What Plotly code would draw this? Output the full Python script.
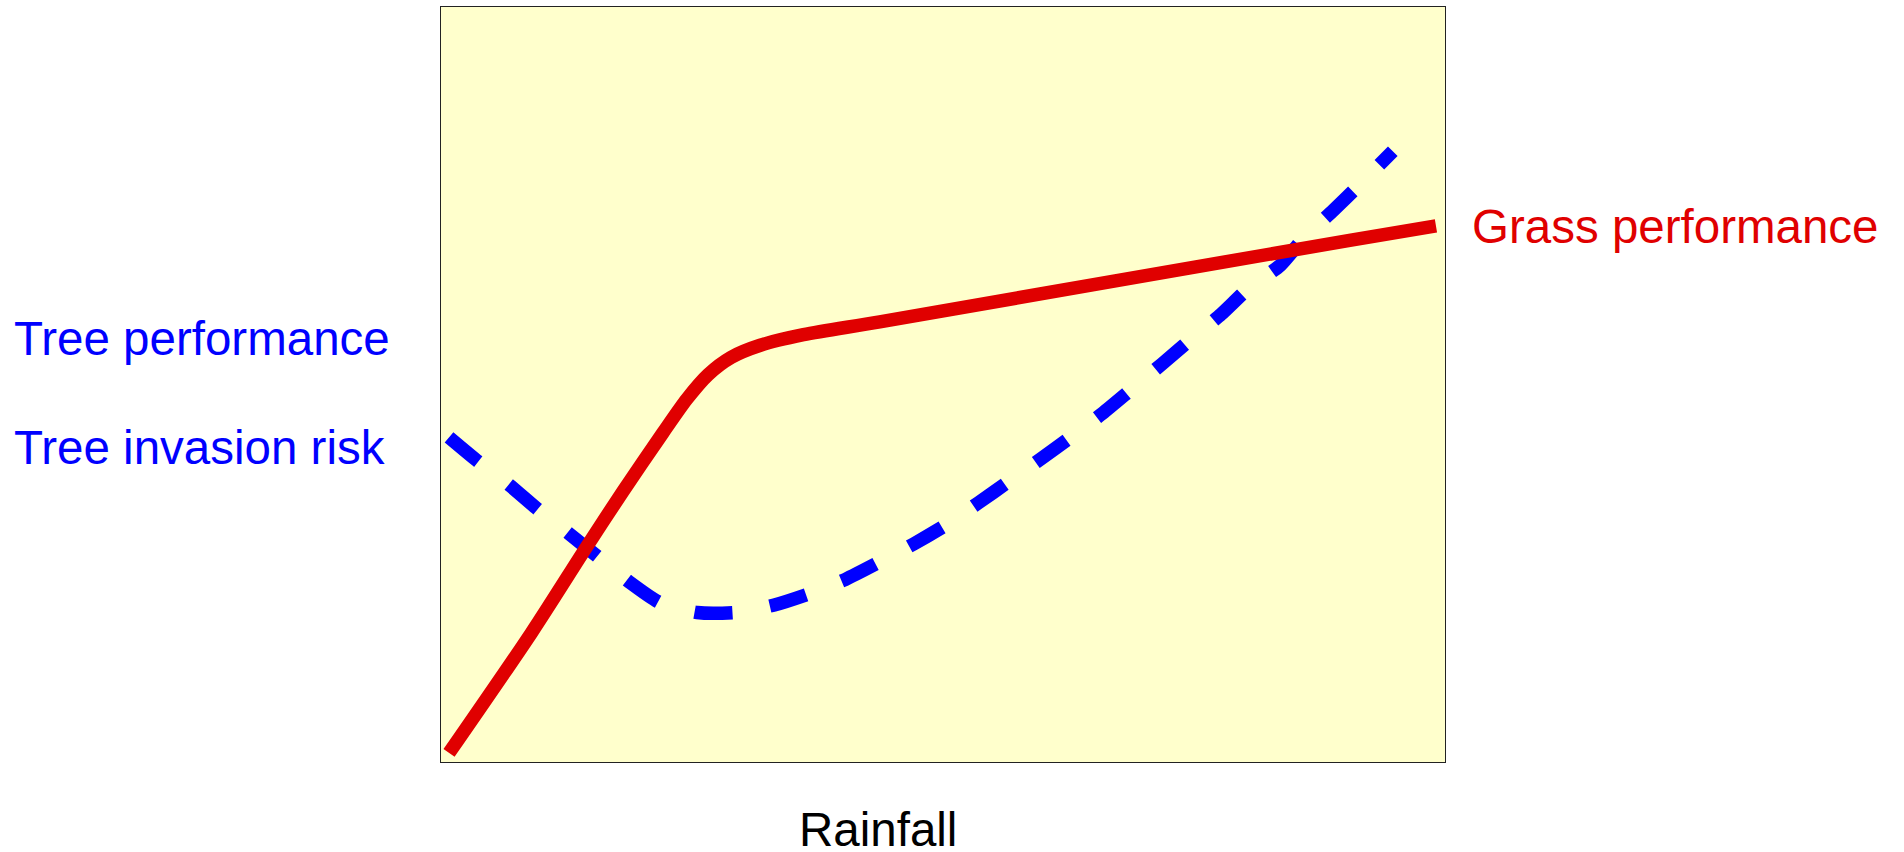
import plotly.graph_objects as go

# Rainfall axis (0-100 arbitrary units), performance axis (0-100 arbitrary units)
grass_x = [0.8, 9.0, 14.5, 18.1, 22.1, 24.5, 26.6, 28.9, 31.8, 36.1, 43.7, 90.5, 99.1]
grass_y = [1.2, 17.1, 28.5, 35.8, 43.6, 48.1, 51.3, 53.6, 55.2, 56.6, 58.3, 69.1, 71.0]

tree_x = [0.8, 3.7, 6.8, 9.7, 12.7, 15.6, 18.7, 21.8, 25.5, 29.3, 33.2, 36.7, 40.3,
          43.7, 47.1, 50.3, 53.5, 56.6, 59.8, 62.9, 65.9, 68.8, 71.8, 74.7, 77.7,
          80.4, 83.6, 86.0, 88.9, 91.6, 94.8]
tree_y = [43.0, 39.8, 36.7, 33.4, 30.3, 27.2, 23.9, 21.1, 19.8, 19.8, 20.8, 22.3, 24.2,
          26.5, 28.9, 31.4, 34.3, 37.2, 40.2, 43.2, 46.2, 49.4, 52.7, 56.0, 59.3,
          62.7, 65.8, 69.5, 73.1, 76.6, 80.9]

labels = ["Tree performance", "Tree invasion risk", "Grass performance", "Rainfall"]

BLUE = "#0000FF"
RED = "#E00000"
FONT = "Liberation Sans, Arial, sans-serif"

fig = go.Figure()
fig.add_trace(go.Scatter(x=tree_x, y=tree_y, mode="lines",
                         line=dict(color=BLUE, width=13.5, dash="38px,38px", shape="spline", smoothing=0.6),
                         hoverinfo="skip", showlegend=False))
fig.add_trace(go.Scatter(x=grass_x, y=grass_y, mode="lines",
                         line=dict(color=RED, width=13.5, shape="spline", smoothing=0.8),
                         hoverinfo="skip", showlegend=False))

ann = [
    dict(text=labels[0], x=-0.4273, y=0.5603, xanchor="left", color=BLUE),
    dict(text=labels[1], x=-0.4273, y=0.4172, xanchor="left", color=BLUE),
    dict(text=labels[2], x=1.0249, y=0.7099, xanchor="left", color=RED),
    dict(text=labels[3], x=0.4353, y=-0.0890, xanchor="center", color="#000000"),
]
for a in ann:
    fig.add_annotation(text=a["text"], x=a["x"], y=a["y"], xref="paper", yref="paper",
                       xanchor=a["xanchor"], yanchor="middle", showarrow=False,
                       font=dict(family=FONT, size=47.5, color=a["color"]))

axis_common = dict(range=[0, 100], showgrid=False, zeroline=False, showticklabels=False,
                   ticks="", showline=True, linecolor="#222222", linewidth=1, mirror=True,
                   fixedrange=True)
fig.update_xaxes(**axis_common)
fig.update_yaxes(**axis_common)

fig.update_layout(width=1904, height=852, autosize=False,
                  margin=dict(l=441, r=459, t=7, b=90),
                  plot_bgcolor="#FFFFCC", paper_bgcolor="#FFFFFF",
                  font=dict(family=FONT))

fig.write_html("out.html", config={"displayModeBar": False},
               post_script="document.body.style.margin='0';document.body.style.overflow='hidden';")
